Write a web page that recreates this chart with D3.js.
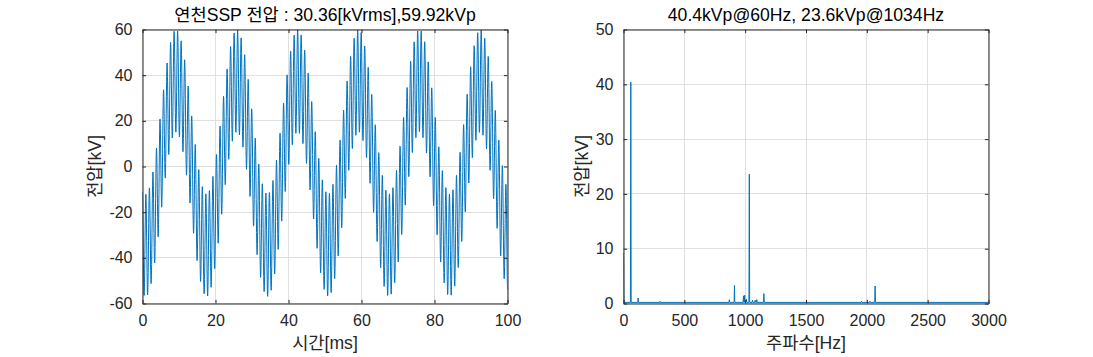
<!DOCTYPE html>
<html>
<head>
<meta charset="utf-8">
<script src="https://cdn.jsdelivr.net/npm/d3@7"></script>
<style>
  html, body { margin: 0; padding: 0; background: #fff; }
  svg text { font-family: "Liberation Sans", Arial, "Noto Sans CJK KR", sans-serif; }
</style>
</head>
<body>
<svg id="chart" width="1093" height="357"></svg>
<script>
// ---------------- data ----------------
// Left panel: time-domain voltage, described by the components
const timeTicks = [0, 20, 40, 60, 80, 100];          // ms
const voltTicks = [-60, -40, -20, 0, 20, 40, 60];     // kV
const waveCompFreqHz   = [0, 60, 1034];               // Hz
const waveCompAmpKV    = [1.5, 36, 22.5];             // kV (visible amplitudes)
const waveCompPeakMs   = [0, 9.2, 0.92];              // time of a crest, ms
const sampleRateHz = 20000;
const timeSpanMs = 100;

// Right panel: spectrum peaks
const specTicksX = [0, 500, 1000, 1500, 2000, 2500, 3000]; // Hz
const specTicksY = [0, 10, 20, 30, 40, 50];                // kV
const peakFreqHz = [0, 60, 120, 300, 870, 912, 986, 996, 1010, 1034, 1060, 1082, 1096, 1154, 1956, 2025, 2068];
const peakAmpKV  = [9.3, 40.4, 1.0, 0.4, 0.7, 3.3, 1.4, 1.5, 0.8, 23.6, 0.6, 0.6, 0.7, 1.8, 0.4, 0.4, 3.2];
const specFloorKV = 0.2;

const leftTitle  = "연천SSP 전압 : 30.36[kVrms],59.92kVp";
const rightTitle = "40.4kVp@60Hz, 23.6kVp@1034Hz";

// ---------------- layout ----------------
const svg = d3.select("#chart");
const blue = "#0072BD";
const axisCol = "#262626";
const gridCol = "#dfdfdf";
const tickLen = 3.6;
const fmt = d => String(d);

function drawAxes(g, x, y, xt, yt, W, H) {
  g.append("g").selectAll("line").data(xt).join("line")
    .attr("x1", d => x(d)).attr("x2", d => x(d)).attr("y1", 0).attr("y2", H)
    .attr("stroke", gridCol).attr("stroke-width", 1).attr("shape-rendering", "crispEdges");
  g.append("g").selectAll("line").data(yt).join("line")
    .attr("y1", d => y(d)).attr("y2", d => y(d)).attr("x1", 0).attr("x2", W)
    .attr("stroke", gridCol).attr("stroke-width", 1).attr("shape-rendering", "crispEdges");
}

function drawFrame(g, x, y, xt, yt, W, H) {
  const xb = d3.axisBottom(x).tickValues(xt).tickFormat(fmt).tickSizeInner(-tickLen).tickSizeOuter(0).tickPadding(11);
  const yl = d3.axisLeft(y).tickValues(yt).tickFormat(fmt).tickSizeInner(-tickLen).tickSizeOuter(0).tickPadding(10);
  const xtop = d3.axisTop(x).tickValues(xt).tickSizeInner(-tickLen).tickSizeOuter(0).tickFormat("");
  const yr = d3.axisRight(y).tickValues(yt).tickSizeInner(-tickLen).tickSizeOuter(0).tickFormat("");
  const style = sel => {
    sel.selectAll("path").attr("stroke", axisCol).attr("stroke-width", 1);
    sel.selectAll("line").attr("stroke", axisCol);
    sel.selectAll("text").attr("fill", axisCol).style("font-size", "16px");
  };
  g.append("g").attr("transform", `translate(0,${H})`).call(xb).call(style);
  g.append("g").call(yl).call(style);
  g.append("g").call(xtop).call(style);
  g.append("g").attr("transform", `translate(${W},0)`).call(yr).call(style);
}

// ---------------- left panel ----------------
{
  const L = 142.5, T = 29.5, W = 365, H = 274;
  const g = svg.append("g").attr("transform", `translate(${L},${T})`);
  const x = d3.scaleLinear().domain([0, 100]).range([0, W]);
  const y = d3.scaleLinear().domain([-60, 60]).range([H, 0]);
  drawAxes(g, x, y, timeTicks, voltTicks, W, H);

  const n = Math.round(timeSpanMs / 1000 * sampleRateHz);
  const pts = d3.range(n + 1).map(i => {
    const tMs = i * 1000 / sampleRateHz;
    let v = 0;
    for (let k = 0; k < waveCompFreqHz.length; k++) {
      v += waveCompAmpKV[k] * Math.cos(2 * Math.PI * waveCompFreqHz[k] * (tMs - waveCompPeakMs[k]) / 1000);
    }
    return [tMs, v];
  });
  g.append("clipPath").attr("id", "clipL").append("rect").attr("width", W).attr("height", H);
  g.append("path").datum(pts)
    .attr("clip-path", "url(#clipL)")
    .attr("fill", "none").attr("stroke", blue).attr("stroke-width", 1)
    .attr("d", d3.line().x(d => x(d[0])).y(d => y(d[1])));
  drawFrame(g, x, y, timeTicks, voltTicks, W, H);

  svg.append("text").attr("x", L + W / 2).attr("y", 21).attr("text-anchor", "middle")
    .style("font-size", "17.6px").attr("fill", "#000").text(leftTitle);
  svg.append("text").attr("x", L + W / 2).attr("y", 349).attr("text-anchor", "middle")
    .style("font-size", "17.6px").attr("fill", axisCol).text("시간[ms]");
  svg.append("text").attr("transform", `translate(101,${T + H / 2}) rotate(-90)`).attr("text-anchor", "middle")
    .style("font-size", "17.6px").attr("fill", axisCol).text("전압[kV]");
}

// ---------------- right panel ----------------
{
  const L = 623.5, T = 29.5, W = 365, H = 274;
  const g = svg.append("g").attr("transform", `translate(${L},${T})`);
  const x = d3.scaleLinear().domain([0, 3000]).range([0, W]);
  const y = d3.scaleLinear().domain([0, 50]).range([H, 0]);
  drawAxes(g, x, y, specTicksX, specTicksY, W, H);

  const pts = [];
  peakFreqHz.forEach((f, i) => {
    if (f > 0) pts.push([f - 3, specFloorKV]);
    pts.push([f, peakAmpKV[i]]);
    pts.push([f + 3, specFloorKV]);
  });
  pts.push([3000, specFloorKV]);
  g.append("clipPath").attr("id", "clipR").append("rect").attr("width", W).attr("height", H);
  g.append("path").datum(pts)
    .attr("clip-path", "url(#clipR)")
    .attr("fill", "none").attr("stroke", blue).attr("stroke-width", 1)
    .attr("d", d3.line().x(d => x(d[0])).y(d => y(d[1])));
  drawFrame(g, x, y, specTicksX, specTicksY, W, H);

  svg.append("text").attr("x", L + W / 2).attr("y", 21).attr("text-anchor", "middle")
    .style("font-size", "17.6px").attr("fill", "#000").text(rightTitle);
  svg.append("text").attr("x", L + W / 2).attr("y", 349).attr("text-anchor", "middle")
    .style("font-size", "17.6px").attr("fill", axisCol).text("주파수[Hz]");
  svg.append("text").attr("transform", `translate(588,${T + H / 2}) rotate(-90)`).attr("text-anchor", "middle")
    .style("font-size", "17.6px").attr("fill", axisCol).text("전압[kV]");
}
</script>
</body>
</html>
